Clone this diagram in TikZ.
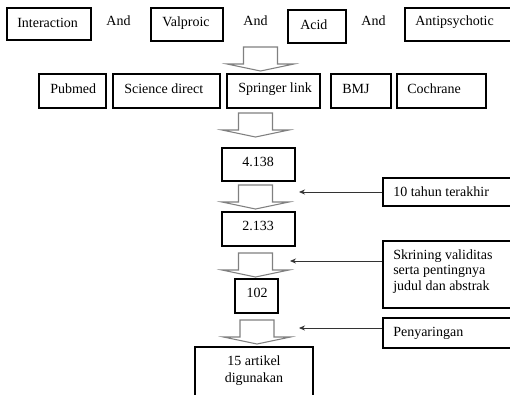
\documentclass[tikz,border=0pt]{standalone}
\usepackage{fontspec}
\setmainfont{Liberation Serif}
\usetikzlibrary{arrows.meta,fit,calc}
\tikzset{
  px/.style={x=0.75pt,y=-0.75pt},
  boxframe/.style={draw=black,line width=1.9pt,inner sep=0pt,rectangle},
  lbl/.style={font=\fontsize{10.5}{12}\selectfont,inner sep=0pt,text=black},
  blk/.style={draw=gray,line width=0.8pt,fill=white,line join=miter},
  thinarrow/.style={draw=black!80,line width=0.6pt,-{Stealth[length=4.5pt,width=3.8pt]}},
  pics/barrow/.style={code={
    \path[blk] (-17,0) -- (17,0) -- (17,17) -- (33.5,17) -- (0,24) -- (-33.5,17) -- (-17,17) -- cycle;}}
}
\begin{document}
\begin{tikzpicture}[px]
\clip (0,0) rectangle (510,394);
\fill[white] (0,0) rectangle (510,394);
% top row
\node[boxframe,fit={(7,8) (91,40)}] (interbox) {};
\node[lbl,anchor=west] (intertxt) at (17,23) {Interaction};
\node[lbl] (and1) at (118.5,21) {And};
\node[boxframe,fit={(151,8) (223,41)}] (valbox) {};
\node[lbl,anchor=west] (valtxt) at (162,23) {Valproic};
\node[lbl] (and2) at (255.5,21) {And};
\node[boxframe,fit={(288,10) (346,43)}] (acidbox) {};
\node[lbl,anchor=west] (acidtxt) at (300,25) {Acid};
\node[lbl] (and3) at (373.5,21) {And};
\node[boxframe,fit={(405,8) (516,41)}] (antibox) {};
\node[lbl,anchor=west] (antitxt) at (415,22) {Antipsychotic};
% arrow 1
\pic at (260.5,47) {barrow};
% second row
\node[boxframe,fit={(39,74) (106,108)}] (pubbox) {};
\node[lbl,anchor=west] (pubtxt) at (50,89) {Pubmed};
\node[boxframe,fit={(113,74) (220,108)}] (scibox) {};
\node[lbl,anchor=west] (scitxt) at (124,89) {Science direct};
\node[boxframe,fit={(227,74) (320,108)}] (sprbox) {};
\node[lbl,anchor=west] (sprtxt) at (238,89) {Springer link};
\node[boxframe,fit={(331,74) (391,108)}] (bmjbox) {};
\node[lbl,anchor=west] (bmjtxt) at (342,89) {BMJ};
\node[boxframe,fit={(397,74) (486,108)}] (cocbox) {};
\node[lbl,anchor=west] (coctxt) at (407,89) {Cochrane};
% arrow 2
\pic at (255.5,113) {barrow};
\node[boxframe,fit={(222,148) (295,181)}] (n4138) {};
\node[lbl] (t4138) at (258,162) {4.138};
% arrow 3
\pic at (255.5,185) {barrow};
\node[boxframe,fit={(222,212) (295,246)}] (n2133) {};
\node[lbl] (t2133) at (258,226) {2.133};
% arrow 4
\pic at (255.5,253) {barrow};
\node[boxframe,fit={(235,279) (278,313)}] (n102) {};
\node[lbl] (t102) at (257,293) {102};
% arrow 5
\pic at (257,320) {barrow};
\node[boxframe,fit={(195,347) (313,402)}] (n15) {};
\node[lbl,align=center,font=\fontsize{10.5}{12.5}\selectfont] (t15) at (254,370.5) {15 artikel\\digunakan};
% side boxes
\node[boxframe,fit={(383,178) (516,206)}] (tenbox) {};
\node[lbl,anchor=west] (tentxt) at (393,192) {10 tahun terakhir};
\node[boxframe,fit={(383,241) (516,308)}] (skrbox) {};
\node[lbl,anchor=west,align=left,font=\fontsize{10.5}{11.6}\selectfont] (skrtxt) at (393,271.5) {Skrining validitas\\serta pentingnya\\judul dan abstrak};
\node[boxframe,fit={(383,318) (516,348)}] (penbox) {};
\node[lbl,anchor=west] (pentxt) at (393,333) {Penyaringan};
% thin arrows
\coordinate (e1) at (299,192);
\coordinate (e2) at (290,261);
\coordinate (e3) at (299,328);
\draw[thinarrow] (tenbox.west) -- (e1);
\draw[thinarrow] (skrbox.west |- e2) -- (e2);
\draw[thinarrow] (penbox.west |- e3) -- (e3);
\end{tikzpicture}
\end{document}
